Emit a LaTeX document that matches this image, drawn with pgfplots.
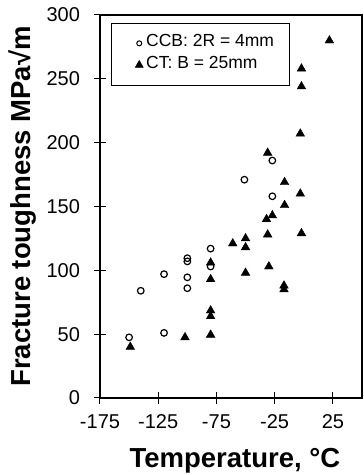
\documentclass[border=0pt]{standalone}
\usepackage{pgfplots}
\pgfplotsset{compat=1.18}
\usepackage{fontspec}
\setmainfont{Liberation Sans}
\begin{document}
\begin{tikzpicture}
\begin{axis}[
  scale only axis,
  width=262pt, height=383pt,
  xmin=-175, xmax=50, ymin=0, ymax=300,
  xtick={-175,-125,-75,-25,25},
  ytick={0,50,100,150,200,250,300},
  tick align=center,
  major tick length=11pt,
  xtick pos=bottom, ytick pos=left,
  axis line style={line width=1.3pt},
  every tick/.style={black, line width=1pt},
  /pgf/number format/assume math mode=true,
  tick label style={font=\fontsize{20}{23}\selectfont},
  xticklabel style={yshift=-8pt},
  yticklabel style={xshift=-11pt},
  xlabel={Temperature, °C},
  ylabel={Fracture toughness MPa√m},
  label style={font=\bfseries\fontsize{27.5}{30}\selectfont},
  xlabel style={at={(axis description cs:0.515,0)}, anchor=base, yshift=-69pt},
  ylabel style={at={(axis description cs:-0.265,0.5)}, anchor=base},
  legend style={at={(axis description cs:0.043,0.979)}, anchor=north west,
    draw=black, line width=0.6pt, font=\fontsize{17.5}{21}\selectfont,
    inner xsep=15pt, inner ysep=10pt, row sep=1.7pt,
    nodes={inner sep=0pt, text height=13pt, text depth=7pt},
    /tikz/every odd column/.style={column sep=3pt}},
  legend cell align=left,
  clip=false,
]
\addplot[only marks, mark=o, mark size=3.3pt, line width=1.2pt, black,
  legend image code/.code={\node[inner sep=0pt, minimum size=0pt, text height=0pt, text depth=0pt] at (-13pt,0pt) {}; \draw[black, mark=o, mark size=2.5pt, line width=1pt] plot coordinates {(0pt,0pt)};}]
  coordinates {
  (-150,47.5) (-140,84) (-120,97) (-120,51) (-100,109.5) (-100,107)
  (-100,94.5) (-100,86) (-80,117) (-80,103) (-51,171) (-27,186) (-27,158)
  };
\addlegendentry{CCB: 2R = 4mm}
\addplot[only marks, mark=triangle*, mark size=5pt, black,
  legend image code/.code={\node[inner sep=0pt, minimum size=0pt, text height=0pt, text depth=0pt] at (-13pt,0pt) {}; \draw[black, fill=black, mark=triangle*, mark size=4.5pt] plot coordinates {(0pt,0pt)};}]
  coordinates {
  (-149,40) (-102,47.5) (-80,106) (-80,93) (-80,68.5) (-80,64) (-80,49.5)
  (-61,121) (-50,125) (-50,118) (-50,98) (-31,192) (-32,140) (-27,143)
  (-31,128) (-30,103) (-16.5,169) (-16.5,151) (-17,88) (-17,85)
  (-3,160) (-2,129) (-3,207) (-2,244) (-2,258) (22,280)
  };
\addlegendentry{CT: B = 25mm}
\end{axis}
\pgfresetboundingbox
\path ([shift={(-100pt,-77pt)}]current axis.south west) rectangle ([shift={(1.5pt,15pt)}]current axis.north east);
\end{tikzpicture}
\end{document}
